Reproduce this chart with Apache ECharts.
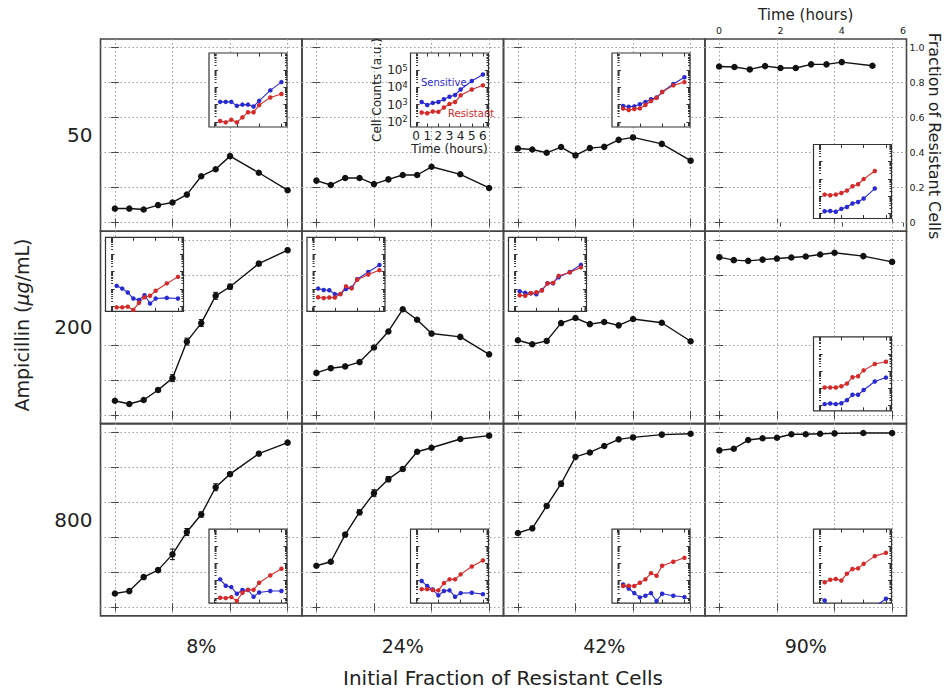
<!DOCTYPE html>
<html>
<head>
<meta charset="utf-8">
<script src="https://cdn.jsdelivr.net/npm/echarts@6/dist/echarts.min.js"></script>
<style>
  html, body { margin: 0; padding: 0; background: #fff; }
  #chart { width: 945px; height: 692px; }
</style>
</head>
<body>
<div id="chart"></div>
<script>
// ---- categories ----
const ampicillin = ['50', '200', '800'];             // rows (µg/mL)
const initialFractions = ['8%', '24%', '42%', '90%']; // columns
const hours = [0, 0.5, 1, 1.5, 2, 2.5, 3, 3.5, 4, 5, 6];
const insetHours = [0.5, 1, 1.5, 2, 2.5, 3, 3.5, 4, 5, 6];

// ---- fraction of resistant cells over time ----
const frac50_8   = [0.08, 0.08, 0.075, 0.10, 0.115, 0.16, 0.265, 0.305, 0.38, 0.285, 0.185];
const frac50_24  = [0.24, 0.215, 0.255, 0.255, 0.22, 0.247, 0.272, 0.272, 0.319, 0.276, 0.198];
const frac50_42  = [0.424, 0.418, 0.399, 0.432, 0.384, 0.426, 0.433, 0.473, 0.487, 0.45, 0.354];
const frac50_90  = [0.893, 0.89, 0.876, 0.895, 0.884, 0.884, 0.905, 0.905, 0.918, 0.897];
const frac200_8  = [0.081, 0.062, 0.085, 0.142, 0.21, 0.419, 0.525, 0.681, 0.733, 0.865, 0.942];
const frac200_24 = [0.24, 0.267, 0.277, 0.302, 0.385, 0.477, 0.604, 0.544, 0.465, 0.446, 0.346];
const frac200_42 = [0.427, 0.404, 0.423, 0.525, 0.554, 0.519, 0.531, 0.512, 0.548, 0.527, 0.421];
const frac200_90 = [0.902, 0.885, 0.881, 0.888, 0.894, 0.9, 0.906, 0.917, 0.927, 0.908, 0.875];
const frac800_8  = [0.078, 0.092, 0.172, 0.212, 0.302, 0.43, 0.53, 0.686, 0.761, 0.878, 0.941];
const frac800_24 = [0.237, 0.26, 0.415, 0.543, 0.652, 0.732, 0.79, 0.889, 0.912, 0.962, 0.981];
const frac800_42 = [0.424, 0.451, 0.579, 0.706, 0.86, 0.885, 0.922, 0.96, 0.971, 0.987, 0.992];
const frac800_90 = [0.897, 0.906, 0.956, 0.966, 0.969, 0.989, 0.989, 0.992, 0.994, 0.996, 0.996];

// ---- standard errors (0 = no bar drawn) ----
const err200_8 = [0, 0, 0, 0.01, 0.02, 0.02, 0.02, 0.02, 0.015, 0.01, 0.005];
const err800_8 = [0, 0, 0.01, 0.01, 0.03, 0.02, 0.015, 0.02, 0.01, 0.005, 0];
const err800_24 = [0, 0, 0.01, 0.015, 0.02, 0.015, 0.01, 0, 0, 0, 0];
const err800_42 = [0, 0, 0.01, 0.015, 0, 0, 0, 0, 0, 0, 0];

// ---- cell counts, log10(a.u.) ----
const sens50_8   = [3.16, 3.16, 3.16, 2.93, 3.0, 3.0, 2.89, 3.22, 3.83, 4.31];
const res50_8    = [2.05, 1.97, 2.12, 1.97, 2.26, 2.56, 2.56, 2.97, 3.41, 3.62];
const sens50_24  = [3.15, 2.98, 3.1, 3.15, 3.31, 3.46, 3.56, 3.88, 4.37, 4.75];
const res50_24   = [2.54, 2.5, 2.6, 2.58, 2.83, 3.04, 3.15, 3.54, 3.88, 4.12];
const sens50_42  = [2.92, 2.88, 2.9, 3.02, 3.15, 3.31, 3.42, 3.73, 4.2, 4.59];
const res50_42   = [2.77, 2.69, 2.75, 2.78, 2.98, 3.21, 3.39, 3.73, 4.12, 4.31];
const sens50_90  = [2.12, 2.14, 2.09, 2.26, 2.37, 2.57, 2.66, 2.86, 3.44];
const res50_90   = [3.09, 3.05, 3.09, 3.18, 3.32, 3.57, 3.69, 3.99, 4.46];
const sens200_8  = [3.18, 3.02, 2.79, 2.44, 2.36, 2.63, 2.15, 2.44, 2.48, 2.44];
const res200_8   = [1.93, 1.93, 1.97, 1.78, 2.19, 2.52, 2.6, 2.89, 3.32, 3.7];
const sens200_24 = [3.02, 2.94, 2.92, 2.7, 2.7, 3.0, 3.07, 3.56, 3.98, 4.39];
const res200_24  = [2.52, 2.47, 2.5, 2.5, 2.7, 3.15, 3.03, 3.53, 3.84, 4.09];
const sens200_42 = [2.87, 2.77, 2.75, 2.69, 2.93, 3.33, 3.33, 3.68, 3.98, 4.4];
const res200_42  = [2.63, 2.6, 2.75, 2.81, 2.91, 3.32, 3.35, 3.76, 3.96, 4.25];
const sens200_90 = [2.09, 2.12, 2.09, 2.14, 2.32, 2.63, 2.63, 2.91, 3.4, 3.63];
const res200_90  = [3.05, 3.05, 3.05, 3.13, 3.28, 3.65, 3.71, 4.05, 4.42, 4.55];
const sens800_8  = [3.08, 2.71, 2.63, 2.24, 2.46, 2.46, 2.07, 2.32, 2.4, 2.4];
const res800_8   = [2.01, 1.99, 2.05, 1.82, 2.3, 2.47, 2.47, 2.88, 3.31, 3.7];
const sens800_24 = [2.98, 2.69, 2.49, 2.15, 2.4, 2.44, 2.07, 2.28, 2.3, 2.22];
const res800_24  = [2.51, 2.51, 2.46, 2.44, 2.86, 3.08, 3.08, 3.37, 3.83, 4.18];
const sens800_42 = [2.78, 2.55, 2.28, 2.03, 2.13, 2.28, 1.82, 2.24, 2.13, 2.05];
const res800_42  = [2.69, 2.71, 2.69, 2.88, 3.08, 3.44, 3.29, 3.87, 4.1, 4.33];
const sens800_90 = [1.85, 1.2, 1.1, 1.0, 1.1, 1.0, 1.2, 1.3, 1.5, 1.95];
const res800_90  = [2.91, 3.06, 3.1, 3.01, 3.41, 3.68, 3.72, 3.98, 4.43, 4.62];

// ---- tick labels ----
const fracTicks = [0, 0.2, 0.4, 0.6, 0.8, 1.0];
const hourTicks = [0, 2, 4, 6];
const insetHourLabels = [0, 1, 2, 3, 4, 5, 6];
const countDecades = [2, 3, 4, 5];

// grid tables assembled from the arrays above
const fractionTable = [
  [frac50_8, frac50_24, frac50_42, frac50_90],
  [frac200_8, frac200_24, frac200_42, frac200_90],
  [frac800_8, frac800_24, frac800_42, frac800_90]
];
const errorTable = [
  [null, null, null, null],
  [err200_8, null, null, null],
  [err800_8, err800_24, err800_42, null]
];
const sensitiveTable = [
  [sens50_8, sens50_24, sens50_42, sens50_90],
  [sens200_8, sens200_24, sens200_42, sens200_90],
  [sens800_8, sens800_24, sens800_42, sens800_90]
];
const resistantTable = [
  [res50_8, res50_24, res50_42, res50_90],
  [res200_8, res200_24, res200_42, res200_90],
  [res800_8, res800_24, res800_42, res800_90]
];

// ---- layout ----
const FONT = 'DejaVu Sans';
const INK = '#222';
const FRAME = '#454545';
const BLUE = '#2a2ad2';
const RED = '#d42a2a';
const PANEL_LEFT = 100.5, PANEL_TOP = 39, PANEL_W = 201.5, PANEL_H = 192.3;
const INSET_W = 78, INSET_H = 74;
const insetSpot = { tr: [108.5, 14], tl: [5, 6], br: [108.5, 105.5] };
const insetPlacement = [
  ['tr', 'tr', 'tr', 'br'],
  ['tl', 'tl', 'tl', 'br'],
  ['br', 'br', 'br', 'br']
];
const LABELED_INSET = [0, 1];

const minorDecadeTicks = [];
for (let n = 1; n <= 5; n++) {
  for (let k = 2; k <= 9; k++) {
    const v = n + Math.log10(k);
    if (v > 1.7 && v < 6) minorDecadeTicks.push(v);
  }
}

const grids = [], xAxes = [], yAxes = [], series = [];
const addGrid = g => (grids.push(Object.assign({ outerBoundsMode: 'none', containLabel: false }, g)), grids.length - 1);
const addX = a => (xAxes.push(a), xAxes.length - 1);
const addY = a => (yAxes.push(a), yAxes.length - 1);

function tickAxis(gridIndex, position, min, max, ticks, len, z, color) {
  return {
    gridIndex, type: 'value', position, min, max, z: z || 0,
    axisLine: { show: false },
    axisTick: { show: true, inside: true, length: len, customValues: ticks, lineStyle: { color: color || FRAME, width: 1 } },
    axisLabel: { show: false, customValues: ticks },
    splitLine: { show: false }
  };
}

const dotted = { show: true, lineStyle: { type: [1.5, 2.5], color: '#9c9c9c', width: 1 } };

for (let r = 0; r < 3; r++) {
  for (let c = 0; c < 4; c++) {
    const left = PANEL_LEFT + c * PANEL_W;
    const top = PANEL_TOP + r * PANEL_H;
    const isCorner = r === 0 && c === 3;

    const gi = addGrid({
      left, top, width: PANEL_W, height: PANEL_H, show: true,
      borderColor: FRAME, borderWidth: 1.6, backgroundColor: 'transparent', z: 0
    });

    const xb = addX({
      gridIndex: gi, type: 'value', position: 'bottom', min: -0.5, max: 6.5,
      axisLine: { show: false },
      axisTick: { show: true, inside: true, length: 4, customValues: hourTicks, lineStyle: { color: FRAME } },
      axisLabel: { show: false, customValues: hourTicks },
      splitLine: dotted,
      name: r === 2 ? initialFractions[c] : '',
      nameLocation: 'middle', nameGap: 21,
      nameTextStyle: { fontFamily: FONT, fontSize: 19, color: INK }
    });

    let xData = xb;
    if (isCorner) {
      xData = addX({
        gridIndex: gi, type: 'value', position: 'top', min: -0.46, max: 6.11,
        axisLine: { show: false },
        axisTick: { show: true, inside: true, length: 4, customValues: hourTicks, lineStyle: { color: FRAME } },
        axisLabel: { show: true, customValues: hourTicks, margin: 4, fontFamily: FONT, fontSize: 9.5, color: INK },
        splitLine: { show: false },
        name: 'Time (hours)', nameLocation: 'middle', nameGap: 17,
        nameTextStyle: { fontFamily: FONT, fontSize: 15, color: INK }
      });
    } else {
      addX(tickAxis(gi, 'top', -0.5, 6.5, hourTicks, 4));
    }

    const yl = addY({
      gridIndex: gi, type: 'value', position: 'left', min: -0.05, max: 1.05,
      axisLine: { show: false },
      axisTick: { show: true, inside: true, length: 4, customValues: fracTicks, lineStyle: { color: FRAME } },
      axisLabel: { show: false, customValues: fracTicks },
      splitLine: dotted,
      name: c === 0 ? ampicillin[r] : '',
      nameLocation: 'middle', nameRotate: 0, nameGap: 8,
      nameTextStyle: { fontFamily: FONT, fontSize: 20, color: INK, align: 'right', verticalAlign: 'middle' }
    });

    if (isCorner) {
      addY({
        gridIndex: gi, type: 'value', position: 'right', min: -0.05, max: 1.05,
        axisLine: { show: false },
        axisTick: { show: true, inside: true, length: 4, customValues: fracTicks, lineStyle: { color: FRAME } },
        axisLabel: {
          show: true, customValues: fracTicks, margin: 3, fontFamily: FONT, fontSize: 9.5, color: INK,
          formatter: v => (v === 0 ? '0' : v.toFixed(1))
        },
        splitLine: { show: false }
      });
    } else {
      addY(tickAxis(gi, 'right', -0.05, 1.05, fracTicks, 4));
    }

    const vals = fractionTable[r][c];
    series.push({
      type: 'line', xAxisIndex: xData, yAxisIndex: yl, z: 2,
      data: vals.map((v, i) => [hours[i], v]),
      symbol: 'circle', symbolSize: 6.5,
      lineStyle: { color: '#111', width: 1.4 },
      itemStyle: { color: '#111' },
      silent: true
    });

    const errs = errorTable[r][c];
    if (errs) {
      series.push({
        type: 'custom', xAxisIndex: xData, yAxisIndex: yl, z: 2, silent: true,
        data: vals.map((v, i) => [hours[i], v, errs[i]]).filter(d => d[2] > 0),
        encode: { x: 0, y: 1 },
        renderItem(params, api) {
          const x = api.value(0), y = api.value(1), e = api.value(2);
          const lo = api.coord([x, y - e]), hi = api.coord([x, y + e]);
          const st = { stroke: '#111', lineWidth: 1 };
          return {
            type: 'group', children: [
              { type: 'line', shape: { x1: lo[0], y1: lo[1], x2: hi[0], y2: hi[1] }, style: st },
              { type: 'line', shape: { x1: lo[0] - 2.5, y1: lo[1], x2: lo[0] + 2.5, y2: lo[1] }, style: st },
              { type: 'line', shape: { x1: hi[0] - 2.5, y1: hi[1], x2: hi[0] + 2.5, y2: hi[1] }, style: st }
            ]
          };
        }
      });
    }

    // inset: cell counts of the two sub-populations
    const spot = insetSpot[insetPlacement[r][c]];
    const labeled = r === LABELED_INSET[0] && c === LABELED_INSET[1];
    const ig = addGrid({
      left: left + spot[0], top: top + spot[1], width: INSET_W, height: INSET_H,
      show: true, borderColor: '#333', borderWidth: 1.2, backgroundColor: '#fff', z: 3
    });
    const xTicks = labeled ? insetHourLabels : hourTicks;
    const ix = addX({
      gridIndex: ig, type: 'value', position: 'bottom', min: -0.5, max: 6.5, z: 4,
      axisLine: { show: false },
      axisTick: { show: true, inside: true, length: 3.5, customValues: xTicks, lineStyle: { color: '#333' } },
      axisLabel: { show: labeled, customValues: insetHourLabels, margin: 3, fontFamily: FONT, fontSize: 12, color: INK },
      splitLine: { show: false },
      name: labeled ? 'Time (hours)' : '', nameLocation: 'middle', nameGap: 15,
      nameTextStyle: { fontFamily: FONT, fontSize: 12, color: INK }
    });
    addX(tickAxis(ig, 'top', -0.5, 6.5, xTicks, 3.5, 4, '#333'));
    const iy = addY({
      gridIndex: ig, type: 'value', position: 'left', min: 1.7, max: 6, z: 4,
      axisLine: { show: false },
      axisTick: { show: true, inside: true, length: 3.5, customValues: countDecades, lineStyle: { color: '#333' } },
      axisLabel: {
        show: labeled, customValues: countDecades, margin: 3, color: INK,
        formatter: v => '{b|10}{s|' + v + '}',
        rich: {
          b: { fontFamily: FONT, fontSize: 12, color: INK, verticalAlign: 'bottom' },
          s: { fontFamily: FONT, fontSize: 8, color: INK, verticalAlign: 'top' }
        }
      },
      splitLine: { show: false },
      name: labeled ? 'Cell Counts (a.u.)' : '', nameLocation: 'middle', nameGap: 24,
      nameTextStyle: { fontFamily: FONT, fontSize: 12, color: INK }
    });
    addY(tickAxis(ig, 'left', 1.7, 6, minorDecadeTicks, 2, 4, '#333'));
    addY(tickAxis(ig, 'right', 1.7, 6, countDecades, 3.5, 4, '#333'));
    addY(tickAxis(ig, 'right', 1.7, 6, minorDecadeTicks, 2, 4, '#333'));

    [[sensitiveTable[r][c], BLUE], [resistantTable[r][c], RED]].forEach(([arr, color]) => {
      series.push({
        type: 'line', xAxisIndex: ix, yAxisIndex: iy, z: 5, clip: true, silent: true,
        data: arr.map((v, i) => [insetHours[i], v]),
        symbol: 'circle', symbolSize: 4.5,
        lineStyle: { color, width: 1.1 },
        itemStyle: { color }
      });
    });
  }
}

const chart = echarts.init(document.getElementById('chart'), null, { renderer: 'svg' });
chart.setOption({
  animation: false,
  backgroundColor: '#fff',
  textStyle: { fontFamily: FONT },
  grid: grids,
  xAxis: xAxes,
  yAxis: yAxes,
  series,
  graphic: [
    {
      type: 'text', x: 22, y: 325, rotation: Math.PI / 2, z: 10,
      style: {
        text: '{n|Ampicillin (}{i|\u03bcg}{n|/mL)}', align: 'center', verticalAlign: 'middle',
        rich: {
          n: { fontFamily: FONT, fontSize: 19, fill: INK },
          i: { fontFamily: FONT, fontSize: 19, fill: INK, fontStyle: 'italic' }
        }
      }
    },
    {
      type: 'text', x: 934, y: 136, rotation: -Math.PI / 2, z: 10,
      style: { text: 'Fraction of Resistant Cells', fontFamily: FONT, fontSize: 16, fill: INK, align: 'center', verticalAlign: 'middle' }
    },
    {
      type: 'text', x: 503, y: 678, z: 10,
      style: { text: 'Initial Fraction of Resistant Cells', fontFamily: FONT, fontSize: 20, fill: INK, align: 'center', verticalAlign: 'middle' }
    },
    {
      type: 'text', x: 421, y: 82, z: 10,
      style: { text: 'Sensitive', fontFamily: FONT, fontSize: 10, fill: BLUE, align: 'left', verticalAlign: 'middle' }
    },
    {
      type: 'text', x: 448, y: 113, z: 10,
      style: { text: 'Resistant', fontFamily: FONT, fontSize: 10, fill: RED, align: 'left', verticalAlign: 'middle' }
    }
  ]
});
</script>
</body>
</html>
